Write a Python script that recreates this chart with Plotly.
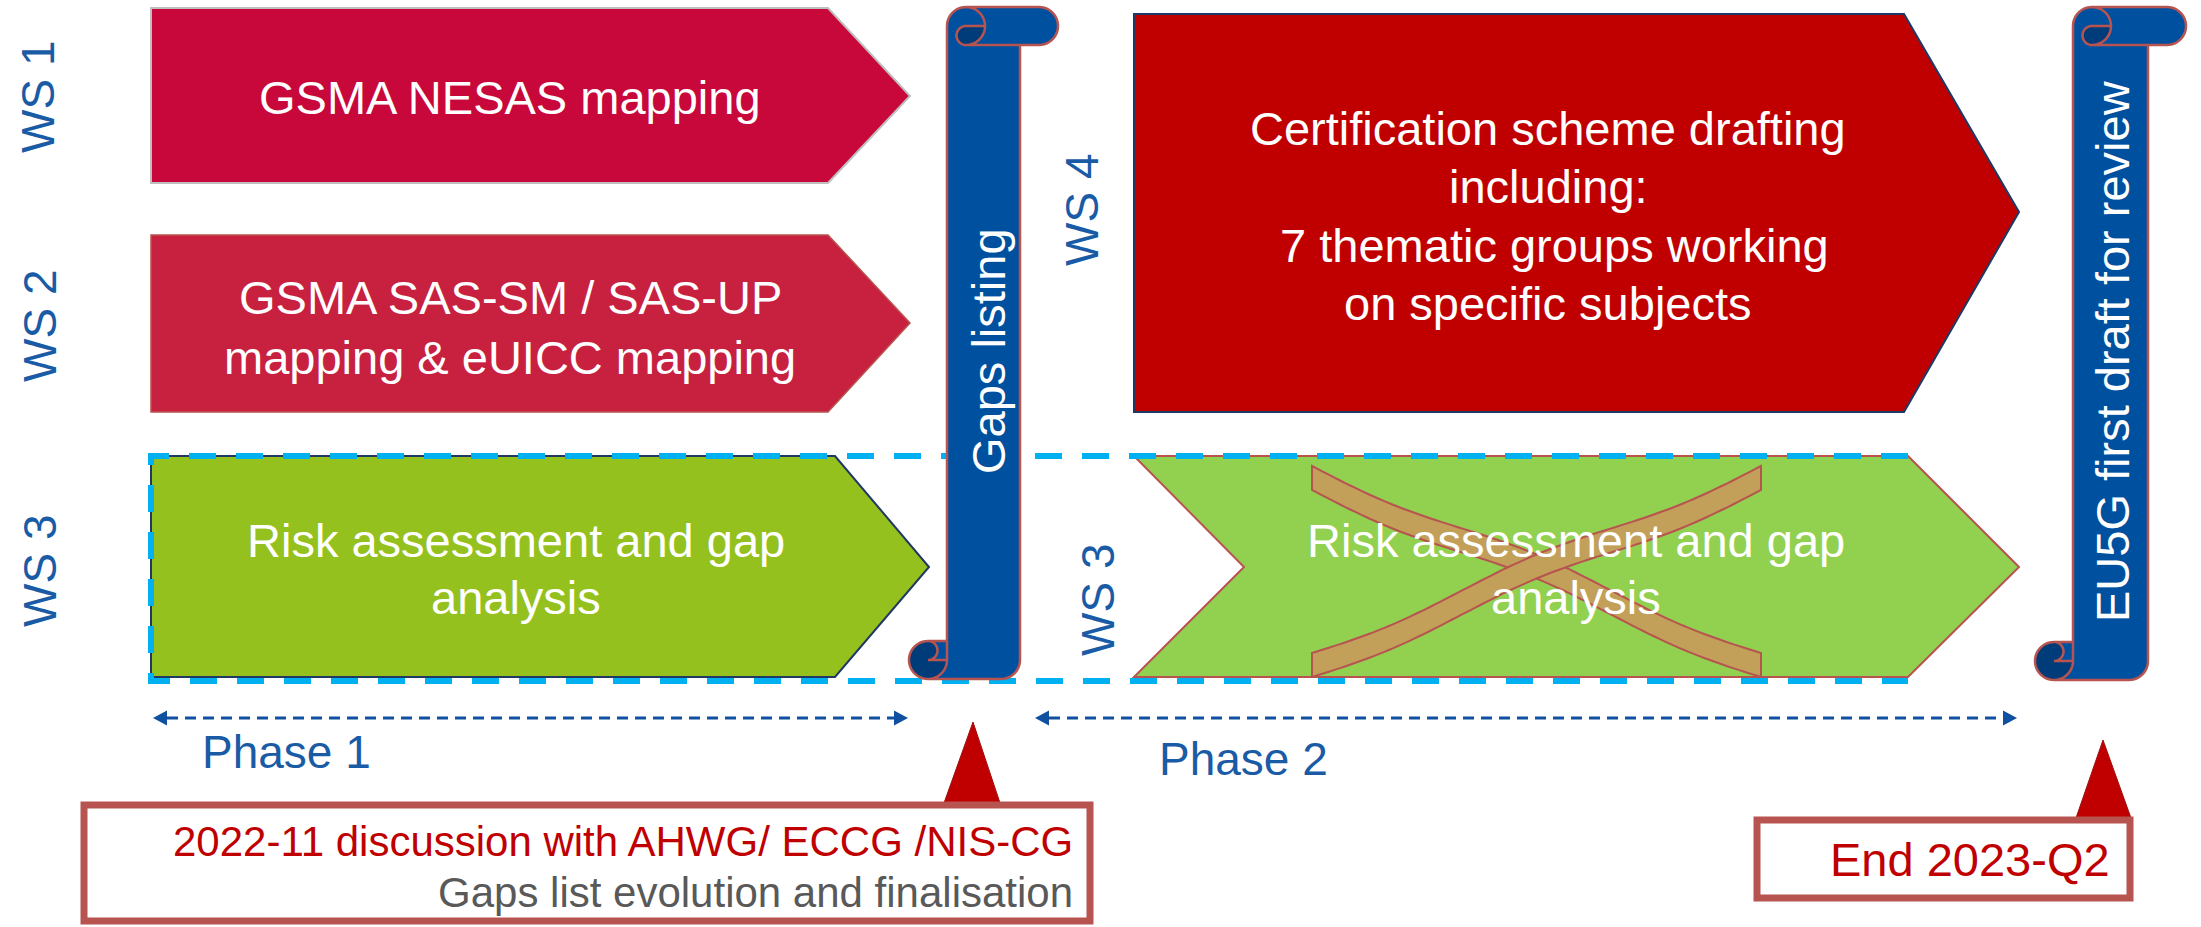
import math
import plotly.graph_objects as go

# ---------------- content (texts) ----------------
ws_labels = ["WS 1", "WS 2", "WS 3", "WS 4", "WS 3"]
ws1_lines = ["GSMA NESAS mapping"]
ws2_lines = ["GSMA SAS-SM / SAS-UP", "mapping & eUICC mapping"]
ws3_lines = ["Risk assessment and gap", "analysis"]
ws4_lines = ["Certification scheme drafting", "including:", " 7 thematic groups working", "on specific subjects"]
scroll_labels = ["Gaps listing", "EU5G first draft for review"]
phase_labels = ["Phase 1", "Phase 2"]
callout1_lines = ["2022-11 discussion with AHWG/ ECCG /NIS-CG", "Gaps list evolution and finalisation"]
callout2_lines = ["End 2023-Q2"]

# ---------------- geometry / style (pixels of the 2201x927 canvas) ----------------
W, H = 2201, 927
FONT = "Liberation Sans, Arial, sans-serif"
BLUE_TXT = "#1A5BA6"
SCROLL_FILL, SCROLL_DARK, SCROLL_LINE = "#0050A0", "#003C7A", "#B85450"

ws_label_pos = [(38, 97), (40, 326), (40, 571), (1082, 210), (1098, 600)]

arrows = [
    dict(pts=[(151, 8), (828, 8), (910, 96), (828, 183), (151, 183)], fill="#C8073A", line="#BFBFBF", lw=2),
    dict(pts=[(151, 235), (828, 235), (910, 323), (828, 412), (151, 412)], fill="#C8203F", line="#B85450", lw=1.5),
    dict(pts=[(151, 456), (835, 456), (929, 567), (835, 677), (151, 677)], fill="#95C11F", line="#1F3864", lw=2),
    dict(pts=[(1134, 14), (1904, 14), (2019, 212), (1904, 412), (1134, 412)], fill="#C00000", line="#1F3864", lw=2),
    dict(pts=[(1134, 456), (1908, 456), (2019, 567), (1908, 677), (1134, 677), (1244, 567)],
         fill="#92D050", line="#B85450", lw=2),
]

text_blocks = [
    (ws1_lines, 510, [97]),
    (ws2_lines, 510, [297, 357]),
    (ws3_lines, 516, [540, 597]),
    (ws4_lines, 1548, [128, 186, 245, 303]),
    (ws3_lines, 1576, [540, 597]),
]

scrolls = [dict(l=909, t=7, r=1058, b=679, ch=38), dict(l=2035, t=7, r=2186, b=680, ch=38)]
scroll_text_pos = [(988, 351), (2112, 351)]


def arc(cx, cy, r, a0, a1, n):
    return [(cx + r * math.cos(math.radians(a0 + (a1 - a0) * i / n)),
             cy + r * math.sin(math.radians(a0 + (a1 - a0) * i / n))) for i in range(n + 1)]


class PB:
    def __init__(self):
        self.p = []
        self.cur = None

    def M(self, x, y):
        self.p.append(f"M{x:.2f},{y:.2f}")
        self.cur = (x, y)

    def L(self, x, y):
        self.p.append(f"L{x:.2f},{y:.2f}")
        self.cur = (x, y)

    def A(self, r, st, sw):
        x, y = self.cur
        cx = x - r * math.cos(math.radians(st))
        cy = y - r * math.sin(math.radians(st))
        pts = arc(cx, cy, r, st, st + sw, max(6, int(abs(sw) / 8)))
        for px, py in pts[1:]:
            self.p.append(f"L{px:.2f},{py:.2f}")
        self.cur = pts[-1]

    def Z(self):
        self.p.append("Z")

    def s(self):
        return " ".join(self.p)


def poly(pts):
    return "M" + " L".join(f"{x},{y}" for x, y in pts) + " Z"


def scroll_shapes(l, t, r, b, ch):
    ch2, ch4 = ch / 2, ch / 4
    xc, x3, x4, x6, x7 = l + ch, l + ch + ch2, l + 2 * ch, r - ch, r - ch2
    y3, y4 = b - ch, b - ch2
    yc2, yc = t + ch2, t + ch
    m = PB()
    m.M(l + ch2, b); m.A(ch2, 90, -90); m.L(l + ch2, y4); m.A(ch4, 90, -180); m.L(xc, y3); m.L(xc, yc2)
    m.A(ch2, 180, 90); m.L(x7, t); m.A(ch2, 270, 180); m.L(x6, yc); m.L(x6, y4); m.A(ch2, 0, 90); m.Z()
    d = PB()
    d.M(x4, yc2); d.A(ch2, 0, 90); d.A(ch4, 90, 180); d.Z()
    d.M(xc, y4); d.A(ch2, 0, 270); d.A(ch4, 270, 180); d.Z()
    s = PB()
    s.M(xc, y3); s.L(xc, yc2); s.A(ch2, 180, 90); s.L(x7, t); s.A(ch2, 270, 180); s.L(x6, yc); s.L(x6, y4)
    s.A(ch2, 0, 90); s.L(l + ch2, b); s.A(ch2, 90, 180); s.Z()
    s.M(x3, t); s.A(ch2, 270, 180); s.A(ch4, 90, 180); s.L(x4, yc2)
    s.M(x6, yc); s.L(x3, yc)
    s.M(l + ch2, y3); s.A(ch4, 270, 180); s.L(xc, y4)
    s.M(l + ch2, b); s.A(ch2, 90, -90); s.L(xc, y3)
    return [
        dict(type="path", path=m.s(), fillcolor=SCROLL_FILL, line=dict(width=0)),
        dict(type="path", path=d.s(), fillcolor=SCROLL_DARK, line=dict(width=0)),
        dict(type="path", path=s.s(), fillcolor="rgba(0,0,0,0)", line=dict(color=SCROLL_LINE, width=2.5)),
    ]


def band(x0, y0, x1, y1, half, amp, n=80):
    top, bot = [], []
    for i in range(n + 1):
        tt = i / n
        x = x0 + (x1 - x0) * tt
        yc = y0 + (y1 - y0) * tt + amp * math.sin(3 * math.pi * tt)
        top.append((x, yc - half))
        bot.append((x, yc + half))
    pts = top + bot[::-1]
    return "M" + " L".join(f"{x:.1f},{y:.1f}" for x, y in pts) + " Z"


shapes = []
for a in arrows:
    shapes.append(dict(type="path", path=poly(a["pts"]), fillcolor=a["fill"],
                       line=dict(color=a["line"], width=a["lw"])))

# crossed-out mark on the phase-2 WS3 chevron
for (x0, y0, x1, y1, amp) in [(1312, 478, 1761, 665, 5), (1761, 478, 1312, 665, 5)]:
    shapes.append(dict(type="path", path=band(x0, y0, x1, y1, 12, amp), fillcolor="#C2A05A",
                       line=dict(color="#B85450", width=2)))

# light-blue dashed frame around WS3
shapes.append(dict(type="path", path="M1908,456 L151,456 L151,681 L1908,681", fillcolor="rgba(0,0,0,0)",
                   line=dict(color="#00B0F0", width=6, dash="27px,20px")))

for sc in scrolls:
    shapes += scroll_shapes(**sc)

# phase arrows
PH = "#1050A0"
for (xa, xb, y) in [(153, 908, 718), (1035, 2017, 718)]:
    shapes.append(dict(type="line", x0=xa + 14, x1=xb - 14, y0=y, y1=y,
                       line=dict(color=PH, width=3, dash="11px,7px")))
    shapes.append(dict(type="path", path=poly([(xa, y), (xa + 14, y - 7.5), (xa + 14, y + 7.5)]),
                       fillcolor=PH, line=dict(width=0)))
    shapes.append(dict(type="path", path=poly([(xb, y), (xb - 14, y - 7.5), (xb - 14, y + 7.5)]),
                       fillcolor=PH, line=dict(width=0)))

# callouts
for (bx0, by0, bx1, by1, tri) in [(84, 805, 1090, 921, [(944, 803), (973, 722), (1000, 803)]),
                                  (1757, 820, 2130, 898, [(2076, 818), (2103, 740), (2131, 818)])]:
    shapes.append(dict(type="path", path=poly(tri), fillcolor="#C00000", line=dict(color="#9A1010", width=1)))
    shapes.append(dict(type="rect", x0=bx0, y0=by0, x1=bx1, y1=by1, fillcolor="white",
                       line=dict(color="#B85450", width=7)))

ann = []


def txt(text, x, y, size, color, xanchor="center", angle=0):
    ann.append(dict(text=text, x=x, y=y, xref="x", yref="y", showarrow=False, xanchor=xanchor,
                    yanchor="middle", textangle=angle, font=dict(family=FONT, size=size, color=color)))


for lab, (x, y) in zip(ws_labels, ws_label_pos):
    txt(lab, x, y, 46, BLUE_TXT, angle=-90)

for lines, x, ys in text_blocks:
    for line, y in zip(lines, ys):
        txt(line.replace(" ", "&nbsp;", 1) if line.startswith(" ") else line, x, y, 47, "white")

for lab, (x, y) in zip(scroll_labels, scroll_text_pos):
    txt(lab, x, y, 47, "white", angle=-90)

txt(phase_labels[0], 200, 752, 46, BLUE_TXT, xanchor="left")
txt(phase_labels[1], 1157, 759, 46, BLUE_TXT, xanchor="left")

txt(callout1_lines[0], 1075, 841, 42, "#C00000", xanchor="right")
txt(callout1_lines[1], 1075, 892, 42, "#595959", xanchor="right")
txt(callout2_lines[0], 2112, 859, 47, "#C00000", xanchor="right")

fig = go.Figure()
fig.update_layout(
    width=W, height=H, margin=dict(l=0, r=0, t=0, b=0),
    paper_bgcolor="white", plot_bgcolor="white", showlegend=False,
    xaxis=dict(range=[0, W], visible=False, fixedrange=True),
    yaxis=dict(range=[H, 0], visible=False, fixedrange=True),
    shapes=shapes, annotations=ann,
)
fig.write_html("out.html")
